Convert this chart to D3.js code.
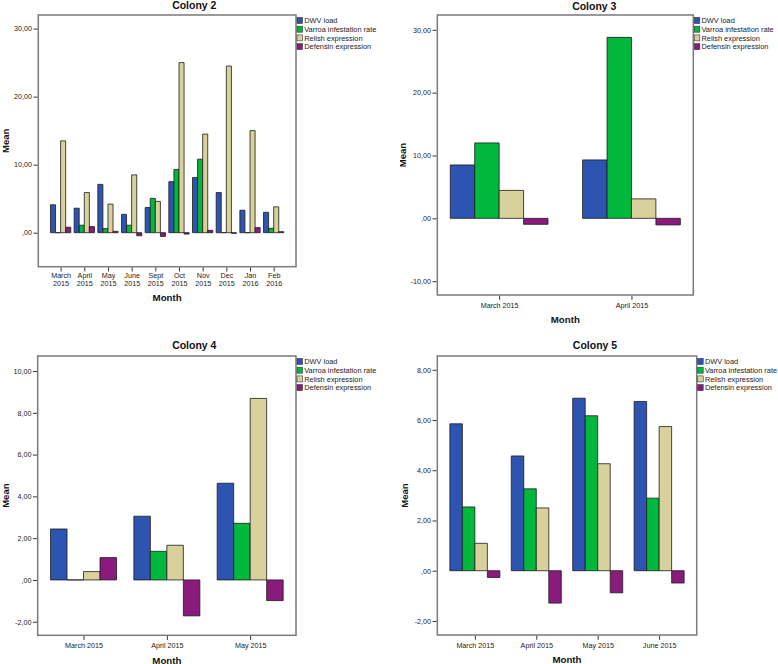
<!DOCTYPE html>
<html>
<head>
<meta charset="utf-8">
<script src="https://cdn.jsdelivr.net/npm/d3@7"></script>
<style>
  html, body { margin: 0; padding: 0; background: #fff; }
  svg { display: block; font-family: "Liberation Sans", Arial, Helvetica, sans-serif; }
</style>
</head>
<body>
<svg id="chart" width="778" height="664"></svg>
<script>
// ---------------- DATA ----------------
const seriesNames = ["DWV load", "Varroa infestation rate", "Relish expression", "Defensin expression"];
const seriesColors = ["#2c54b0", "#00b83c", "#d8d19b", "#8a1b7c"];

// Colony 2
const c2Months   = ["March 2015","April 2015","May 2015","June 2015","Sept 2015","Oct 2015","Nov 2015","Dec 2015","Jan 2016","Feb 2016"];
const c2DWV      = [4.1, 3.6, 7.1, 2.7, 3.7, 7.5, 8.1, 5.9, 3.3, 3.0];
const c2Varroa   = [0, 1.1, 0.6, 1.1, 5.05, 9.3, 10.8, 0, 0, 0.65];
const c2Relish   = [13.5, 5.9, 4.2, 8.5, 4.6, 25.0, 14.5, 24.5, 15.0, 3.8];
const c2Defensin = [0.8, 0.9, 0.2, -0.45, -0.55, -0.2, 0.35, -0.1, 0.75, 0.15];
const c2Ticks    = [0, 10, 20, 30];

// Colony 3
const c3Months   = ["March 2015","April 2015"];
const c3DWV      = [8.5, 9.3];
const c3Varroa   = [12.0, 28.8];
const c3Relish   = [4.45, 3.1];
const c3Defensin = [-0.95, -1.05];
const c3Ticks    = [-10, 0, 10, 20, 30];

// Colony 4
const c4Months   = ["March 2015","April 2015","May 2015"];
const c4DWV      = [2.44, 3.05, 4.63];
const c4Varroa   = [0, 1.37, 2.71];
const c4Relish   = [0.4, 1.66, 8.69];
const c4Defensin = [1.07, -1.72, -0.99];
const c4Ticks    = [-2, 0, 2, 4, 6, 8, 10];

// Colony 5
const c5Months   = ["March 2015","April 2015","May 2015","June 2015"];
const c5DWV      = [5.85, 4.57, 6.87, 6.74];
const c5Varroa   = [2.54, 3.26, 6.17, 2.89];
const c5Relish   = [1.09, 2.5, 4.26, 5.74];
const c5Defensin = [-0.27, -1.29, -0.88, -0.49];
const c5Ticks    = [-2, 0, 2, 4, 6, 8];

// ---------------- LAYOUT ----------------
const panels = [
  { title: "Colony 2", months: c2Months, series: [c2DWV, c2Varroa, c2Relish, c2Defensin], ticks: c2Ticks,
    frame: {l: 38.3, t: 15, r: 296, b: 266.7}, ydom: [-5, 32], pi: 0.142, po: 0.514,
    twoLine: true, titleX: 194.3, titleY: 9.4, monthY: 301.2, meanX: 8.6, clipX: 0 },
  { title: "Colony 3", months: c3Months, series: [c3DWV, c3Varroa, c3Relish, c3Defensin], ticks: c3Ticks,
    frame: {l: 437.3, t: 15, r: 693.3, b: 295}, ydom: [-12.2, 32.36], pi: 0.2615, po: 0.098,
    twoLine: false, titleX: 594.3, titleY: 9.6, monthY: 322.5, meanX: 406, clipX: 400 },
  { title: "Colony 4", months: c4Months, series: [c4DWV, c4Varroa, c4Relish, c4Defensin], ticks: c4Ticks,
    frame: {l: 37.7, t: 356, r: 296, b: 635.3}, ydom: [-2.65, 10.72], pi: 0.208, po: 0.154,
    twoLine: false, titleX: 194.3, titleY: 348.8, monthY: 663.5, meanX: 8.5, clipX: 0 },
  { title: "Colony 5", months: c5Months, series: [c5DWV, c5Varroa, c5Relish, c5Defensin], ticks: c5Ticks,
    frame: {l: 437.3, t: 356, r: 696.7, b: 635}, ydom: [-2.56, 8.55], pi: 0.186, po: 0.2045,
    twoLine: false, titleX: 595, titleY: 348.8, monthY: 662.5, meanX: 408.4, clipX: 400 }
];

const svg = d3.select("#chart");
const defs = svg.append("defs");
defs.append("clipPath").attr("id", "rightClip").attr("clipPathUnits", "userSpaceOnUse")
  .append("rect").attr("x", 400).attr("y", 0).attr("width", 378).attr("height", 664);

function fmt(v) {
  let s = d3.format(".2f")(v).replace(".", ",").replace("−", "-");
  if (s.startsWith("0,")) s = s.slice(1);
  if (s.startsWith("-0,")) s = "-" + s.slice(2);
  return s;
}

panels.forEach(p => {
  const f = p.frame;
  const g = svg.append("g");
  const x0 = d3.scaleBand().domain(p.months).range([f.l, f.r]).paddingInner(p.pi).paddingOuter(p.po);
  const x1 = d3.scaleBand().domain(seriesNames).range([0, x0.bandwidth()]);
  const y = d3.scaleLinear().domain(p.ydom).range([f.b, f.t]);

  // frame background
  g.append("rect").attr("x", f.l).attr("y", f.t).attr("width", f.r - f.l).attr("height", f.b - f.t)
    .attr("fill", "#fff");

  // bars
  p.series.forEach((vals, si) => {
    g.append("g").selectAll("path").data(vals).join("path")
      .attr("d", (v, i) => {
        const bx = x0(p.months[i]) + x1(seriesNames[si]);
        const w = x1.bandwidth();
        const y0 = y(0), yv = y(v);
        return `M${bx},${y0}H${bx + w}V${yv}H${bx}Z`;
      })
      .attr("fill", seriesColors[si])
      .attr("stroke", "#1c1c1c")
      .attr("stroke-width", 0.8);
  });

  // frame border
  g.append("rect").attr("x", f.l).attr("y", f.t).attr("width", f.r - f.l).attr("height", f.b - f.t)
    .attr("fill", "none").attr("stroke", "#7a7a7a").attr("stroke-width", 1.5);

  // y axis
  const ya = g.append("g").attr("transform", `translate(${f.l - 0.75},0)`)
    .call(d3.axisLeft(y).tickValues(p.ticks).tickSize(4).tickPadding(1.5).tickFormat(fmt));
  ya.select(".domain").remove();
  ya.selectAll("line").attr("stroke", "#333");
  ya.selectAll("text").attr("font-size", 7.2).attr("fill", "#222")
    .attr("font-family", "'Liberation Sans', Arial, sans-serif");

  // x axis
  const xa = g.append("g").attr("transform", `translate(0,${f.b + 0.75})`)
    .call(d3.axisBottom(d3.scalePoint().domain(p.months).range([x0(p.months[0]) + x0.bandwidth() / 2, x0(p.months[p.months.length - 1]) + x0.bandwidth() / 2]))
      .tickSize(4).tickPadding(3).tickFormat(p.twoLine ? () => "" : d => d));
  xa.select(".domain").remove();
  xa.selectAll("line").attr("stroke", "#333");
  xa.selectAll("text").attr("font-size", 7.2).attr("fill", "#222")
    .attr("font-family", "'Liberation Sans', Arial, sans-serif");
  if (p.twoLine) {
    xa.selectAll(".tick").each(function(d) {
      const parts = d.split(" ");
      const t = d3.select(this).select("text").attr("dy", null).attr("y", 10.8);
      t.text(null);
      t.append("tspan").attr("x", 0).attr("y", 10.8).text(parts[0]);
      t.append("tspan").attr("x", 0).attr("y", 18.5).text(parts[1]);
    });
  } else {
    xa.selectAll("text").attr("dy", null).attr("y", 11.8);
  }

  // title
  g.append("text").attr("x", p.titleX).attr("y", p.titleY).attr("text-anchor", "middle")
    .attr("font-size", 10.5).attr("font-weight", "bold").attr("fill", "#111").text(p.title);

  // x label
  g.append("text").attr("x", (f.l + f.r) / 2).attr("y", p.monthY).attr("text-anchor", "middle")
    .attr("font-size", 9.7).attr("font-weight", "bold").attr("fill", "#111").text("Month");

  // y label (wrapped in a group so the clip is in page coordinates)
  const ylg = g.append("g");
  if (p.clipX) ylg.attr("clip-path", "url(#rightClip)");
  ylg.append("text").attr("transform", `translate(${p.meanX},${(f.t + f.b) / 2}) rotate(-90)`)
    .attr("text-anchor", "middle").attr("font-size", 9.5).attr("font-weight", "bold").attr("fill", "#111").text("Mean");

  // legend
  const lg = g.append("g").attr("transform", `translate(${f.r + 1},${f.t + 2.5})`);
  seriesNames.forEach((name, i) => {
    const row = lg.append("g").attr("transform", `translate(0,${i * 8.7})`);
    row.append("rect").attr("x", 0).attr("y", 0).attr("width", 5.5).attr("height", 6)
      .attr("fill", seriesColors[i]).attr("stroke", "#333").attr("stroke-width", 0.6);
    row.append("text").attr("x", 7.2).attr("y", 5.6).attr("font-size", 7.4).attr("fill", "#222").text(name);
  });
});
</script>
</body>
</html>
